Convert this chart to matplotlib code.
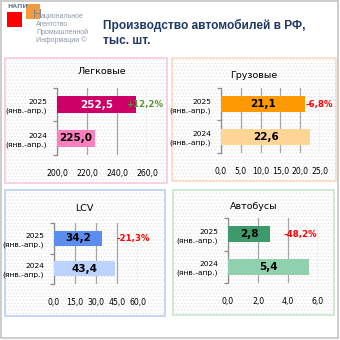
import matplotlib
matplotlib.use('Agg')
import matplotlib.pyplot as plt
from matplotlib.patches import Rectangle

plt.rcParams['font.family'] = ['DejaVu Sans']
plt.rcParams['hatch.linewidth'] = 0.6

# data
categories = ['Легковые', 'Грузовые', 'LCV', 'Автобусы']
years = ['2025\n(янв.-апр.)', '2024\n(янв.-апр.)']
v2025 = [252.5, 21.1, 34.2, 2.8]
v2024 = [225.0, 22.6, 43.4, 5.4]
changes = ['+12,2%', '-6,8%', '-21,3%', '-48,2%']
xmins = [200, 0, 0, 0]
xmaxs = [260, 25, 60, 6]
xsteps = [20, 5, 15, 2]

# styles
c2025 = ['#cc0066', '#ff9900', '#5b8def', '#3f9a6b']
c2024 = ['#ff7fbf', '#ffd596', '#bcd2ff', '#8fd1ae']
label2025 = ['white', 'black', 'black', 'black']
change_col = ['#5f9436', '#ff0000', '#ff0000', '#ff0000']
change_off = [-10, 1, 15, 13]
borders = ['#f6c8df', '#f8dcc2', '#b9cff2', '#c9e6cd']

W = H = 340
# panel rects (x0, y0, x1, y1) in px, top-left origin
panels = [(5, 58, 167, 183), (172, 58, 336, 181), (5, 190, 165, 316), (173, 190, 334, 315)]
axes_px = [(57, 88, 147, 155), (221, 88, 320, 153), (54, 223, 138, 284), (228, 218, 318, 283)]
title_pos = [(102, 72), (254, 75), (84, 208), (254, 207)]

fig = plt.figure(figsize=(3.4, 3.4), dpi=100)


def fx(x):
    return x / W


def fy(y):
    return 1 - y / H


def add_rect(x0, y0, x1, y1, **kw):
    fig.patches.append(Rectangle((fx(x0), fy(y1)), fx(x1 - x0), (y1 - y0) / H,
                                 transform=fig.transFigure, zorder=-10, **kw))


# outer frame
add_rect(1, 1, 338, 338, fill=False, edgecolor='#c4c4c4', lw=1.2)

# header
add_rect(26, 4, 40, 19, facecolor='#f39a3a', edgecolor='none')
add_rect(7, 12, 22, 27, facecolor='#ff0000', edgecolor='none')
fig.text(fx(7), fy(7), 'НАПИ', fontsize=4.5, color='#6c7c98', fontweight='bold', va='center')
fig.text(fx(33.5), fy(15), 'Н', fontsize=9, color='#80889a', va='center',
         family='Liberation Sans')
hdr = ['ациональное', 'Агентство', 'Промышленной', 'Информации ©']
hdr_x = [41, 36, 36, 36]
for i, t in enumerate(hdr):
    fig.text(fx(hdr_x[i]), fy(16 + 8 * i), t, fontsize=5, color='#8a96aa', va='center',
             family='Liberation Sans')
fig.text(fx(103), fy(25), 'Производство автомобилей в РФ,', fontsize=8.6, fontweight='bold',
         color='#1f3864', va='center', family='Liberation Sans')
fig.text(fx(103), fy(41), 'тыс. шт.', fontsize=8.6, fontweight='bold',
         color='#1f3864', va='center', family='Liberation Sans')

for i in range(4):
    x0, y0, x1, y1 = panels[i]
    add_rect(x0, y0, x1, y1, facecolor='white', hatch='.....', edgecolor='#e6e6e6', lw=0)
    add_rect(x0, y0, x1, y1, fill=False, edgecolor=borders[i], lw=1.2)

    ax0, ay0, ax1, ay1 = axes_px[i]
    ax = fig.add_axes([fx(ax0), fy(ay1), fx(ax1 - ax0), (ay1 - ay0) / H])
    ax.set_facecolor('none')
    vals = [v2025[i], v2024[i]]
    cols = [c2025[i], c2024[i]]
    ypos = [1, 0]
    ax.barh(ypos, [v - xmins[i] for v in vals], left=xmins[i], height=0.5, color=cols, zorder=3)
    ax.set_xlim(xmins[i], xmaxs[i])
    ax.set_ylim(-0.5, 1.5)
    ticks = list(range(xmins[i], xmaxs[i] + 1, xsteps[i]))
    ax.set_xticks(ticks)
    ax.set_xticklabels([f'{t:.1f}'.replace('.', ',') for t in ticks], fontsize=5.6)
    ax.tick_params(axis='x', length=0, pad=10)
    ax.grid(axis='x', color='#a6a6a6', lw=0.9, zorder=0)
    ax.set_yticks(ypos)
    ax.set_yticklabels(years, fontsize=5.4, linespacing=1.5)
    ax.tick_params(axis='y', which='major', length=0, pad=7)
    ax.set_yticks([-0.5, 0.5, 1.5], minor=True)
    ax.tick_params(axis='y', which='minor', length=3, color='#8c8c8c', width=0.9)
    for s in ['top', 'right', 'bottom']:
        ax.spines[s].set_visible(False)
    ax.spines['left'].set_color('#8c8c8c')
    ax.spines['left'].set_linewidth(0.9)

    txt_cols = [label2025[i], 'black']
    for y, v, tc in zip(ypos, vals, txt_cols):
        ax.text((xmins[i] + v) / 2, y, f'{v:.1f}'.replace('.', ','), ha='center', va='center',
                fontsize=7.5, fontweight='bold', color=tc, zorder=4)
    ax.annotate(changes[i], (v2025[i], 1), xytext=(change_off[i] * 0.72, 0),
                textcoords='offset points', ha='left', va='center', fontsize=6.2,
                fontweight='bold', color=change_col[i], zorder=5, annotation_clip=False)

    tx, ty = title_pos[i]
    fig.text(fx(tx), fy(ty), categories[i], ha='center', va='center', fontsize=6.8)

fig.savefig('out.png', dpi=100)
